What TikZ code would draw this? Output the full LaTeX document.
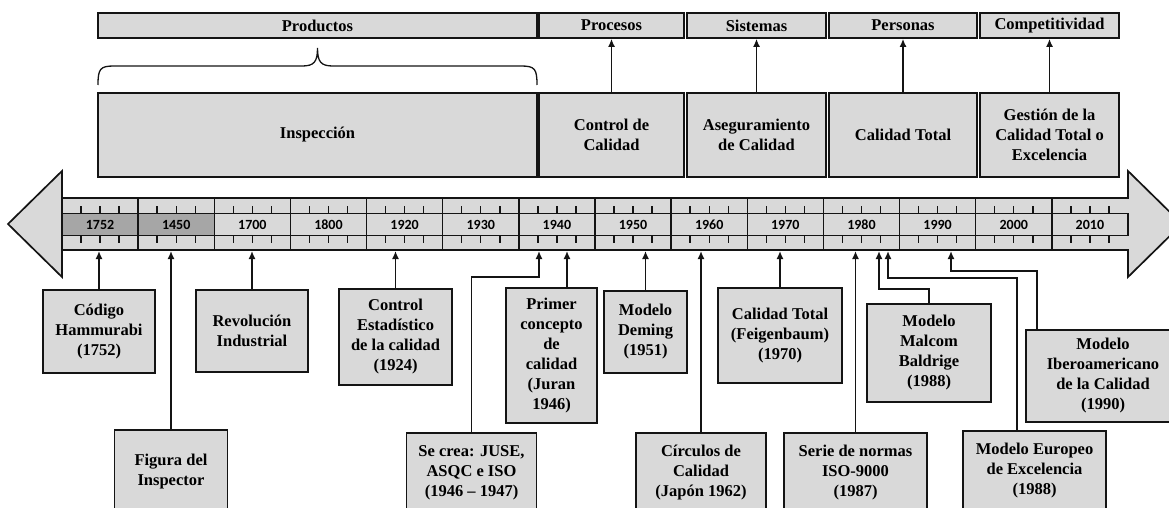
\documentclass[tikz,border=0pt]{standalone}
\usepackage{fontspec}
\setmainfont{Liberation Serif}
\newfontfamily\yrfont{Carlito}
\usetikzlibrary{arrows.meta,positioning,calc}
\definecolor{myGray}{RGB}{217,217,217}
\definecolor{myDark}{RGB}{166,166,166}
\definecolor{myLine}{RGB}{20,20,20}
\tikzset{
	qbox/.style={
		draw=myLine,
		fill=myGray,
		align=center,
		inner sep=1pt,
		line width=1.7pt,
		font=\bfseries\fontsize{16.5}{20}\selectfont
	},
	ycell/.style={
		draw=myLine,
		line width=1.5pt,
		inner sep=0pt,
		minimum width=76.14pt,
		minimum height=22pt,
		font=\yrfont\bfseries\fontsize{14}{16}\selectfont
	},
	qarr/.style={-{Latex[length=8pt,width=7pt]}, line width=1.5pt, myLine}
}

\begin{document}
\begin{tikzpicture}[x=1pt, y=-1pt]
	\useasboundingbox (0,0) rectangle (1169,508);
	\clip (0,0) rectangle (1169,508);
	% enfoques
	\node[qbox, minimum width=439pt, minimum height=25pt] (prod) at (317.5,25.5) {Productos};
	\node[qbox, minimum width=145pt, minimum height=25pt] (proc) at (611.5,25.5) {Procesos};
	\node[qbox, minimum width=139pt, minimum height=25pt] (sist) at (756.5,25.5) {Sistemas};
	\node[qbox, minimum width=148pt, minimum height=25pt] (pers) at (903,25.5) {Personas};
	\node[qbox, minimum width=139pt, minimum height=25pt] (comp) at (1049.5,25.5) {Competitividad};
	% etapas
	\node[qbox, minimum width=439pt, minimum height=84pt] (insp) at (317.5,135) {Inspección};
	\node[qbox, minimum width=145pt, minimum height=84pt] (ctrl) at (611.5,135) {Control de\\Calidad};
	\node[qbox, minimum width=139pt, minimum height=84pt] (aseg) at (756.5,135) {Aseguramiento\\de Calidad};
	\node[qbox, minimum width=148pt, minimum height=84pt] (ctot) at (903,135) {Calidad Total};
	\node[qbox, minimum width=139pt, minimum height=84pt] (gest) at (1049.5,135) {Gestión de la\\Calidad Total o\\Excelencia};
	\draw[line width=1.3pt, myLine] (98,85) .. controls (98,69) and (100,66) .. (114,66) -- (302,66) .. controls (314,66) and (317.5,62) .. (317.5,48) .. controls (317.5,62) and (321,66) .. (333,66) -- (521,66) .. controls (535,66) and (537,69) .. (537,85);
	\draw[qarr] (ctrl.north) -- (proc.south);
	\draw[qarr] (aseg.north) -- (sist.south);
	\draw[qarr] (ctot.north) -- (pers.south);
	\draw[qarr] (gest.north) -- (comp.south);
	% linea de tiempo
	\draw[line width=1.7pt, draw=myLine, fill=myGray] (8,224) -- (62,171) -- (62,198) -- (1128,198) -- (1128,171) -- (1182,224) -- (1128,277) -- (1128,250) -- (62,250) -- (62,277) -- cycle;
	\foreach \yr/\col [count=\i from 0] in {1752/myDark, 1450/myDark, 1700/myGray, 1800/myGray, 1920/myGray, 1930/myGray, 1940/myGray, 1950/myGray, 1960/myGray, 1970/myGray, 1980/myGray, 1990/myGray, 2000/myGray, 2010/myGray} {
		\pgfmathsetmacro{\xa}{62+\i*76.14}
		\draw[line width=1.5pt, myLine] (\xa,198) -- (\xa,250);
		\foreach \k in {1,2,3}
			\draw[line width=1.4pt, myLine] (\xa+\k*19.035,206) -- (\xa+\k*19.035,243);
		\node[ycell, fill=\col] (c\yr) at (\xa+38.07,224.5) {\yr};
	}
	\coordinate (acod) at (99,251);
	\coordinate (afig) at (171,251);
	\coordinate (arev) at (252,251);
	\coordinate (aest) at (395.5,251);
	\coordinate (ajus) at (539,251);
	\coordinate (apri) at (567,251);
	\coordinate (adem) at (645.5,251);
	\coordinate (acir) at (701,251);
	\coordinate (afei) at (780,251);
	\coordinate (aser) at (855.5,251);
	\coordinate (amal) at (879,251);
	\coordinate (aeur) at (888,251);
	\coordinate (aibe) at (951,251);
	% hitos
	\node[qbox, minimum width=112pt, minimum height=83pt] (cod) at (99,331.5) {Código\\Hammurabi\\(1752)};
	\node[qbox, minimum width=113pt, minimum height=84pt] (fig) at (171,472) {Figura del\\Inspector};
	\node[qbox, minimum width=112pt, minimum height=82pt] (rev) at (252,331) {Revolución\\Industrial};
	\node[qbox, minimum width=113pt, minimum height=96pt] (est) at (395.5,337) {Control\\Estadístico\\de la calidad\\(1924)};
	\node[qbox, minimum width=130pt, minimum height=80pt] (jus) at (471.5,473) {Se crea: JUSE,\\ASQC e ISO\\(1946 – 1947)};
	\node[qbox, minimum width=91pt, minimum height=135pt] (pri) at (551.5,355.5) {Primer\\concepto\\de\\calidad\\(Juran\\1946)};
	\node[qbox, minimum width=83pt, minimum height=82pt] (dem) at (645.5,332) {Modelo\\Deming\\(1951)};
	\node[qbox, minimum width=130pt, minimum height=80pt] (cir) at (701,473) {Círculos de\\Calidad\\(Japón 1962)};
	\node[qbox, minimum width=124pt, minimum height=95pt] (fei) at (780,335.5) {Calidad Total\\(Feigenbaum)\\(1970)};
	\node[qbox, minimum width=143pt, minimum height=80pt] (ser) at (855.5,473) {Serie de normas\\ISO-9000\\(1987)};
	\node[qbox, minimum width=124pt, minimum height=98pt] (mal) at (929,353) {Modelo\\Malcom\\Baldrige\\(1988)};
	\node[qbox, minimum width=143pt, minimum height=80pt] (eur) at (1034.5,471) {Modelo Europeo\\de Excelencia\\(1988)};
	\node[qbox, minimum width=154pt, minimum height=92pt] (ibe) at (1103,376) {Modelo\\Iberoamericano\\de la Calidad\\(1990)};
	\draw[qarr] (cod.north) -- (acod);
	\draw[qarr] (fig.north) -- (afig);
	\draw[qarr] (rev.north) -- (arev);
	\draw[qarr] (est.north) -- (aest);
	\draw[qarr] (jus.north) -- ++(0,-155) -| (ajus);
	\draw[qarr] ([xshift=15.5pt]pri.north) -- (apri);
	\draw[qarr] (dem.north) -- (adem);
	\draw[qarr] (cir.north) -- (acir);
	\draw[qarr] (fei.north) -- (afei);
	\draw[qarr] (ser.north) -- (aser);
	\draw[qarr] (mal.north) -- ++(0,-14) -| (amal);
	\draw[qarr] ([xshift=-17.5pt]eur.north) -- ++(0,-152) -| (aeur);
	\draw[qarr] ([xshift=12pt]ibe.north west) -- ++(0,-58) -| (aibe);
\end{tikzpicture}
\end{document}
